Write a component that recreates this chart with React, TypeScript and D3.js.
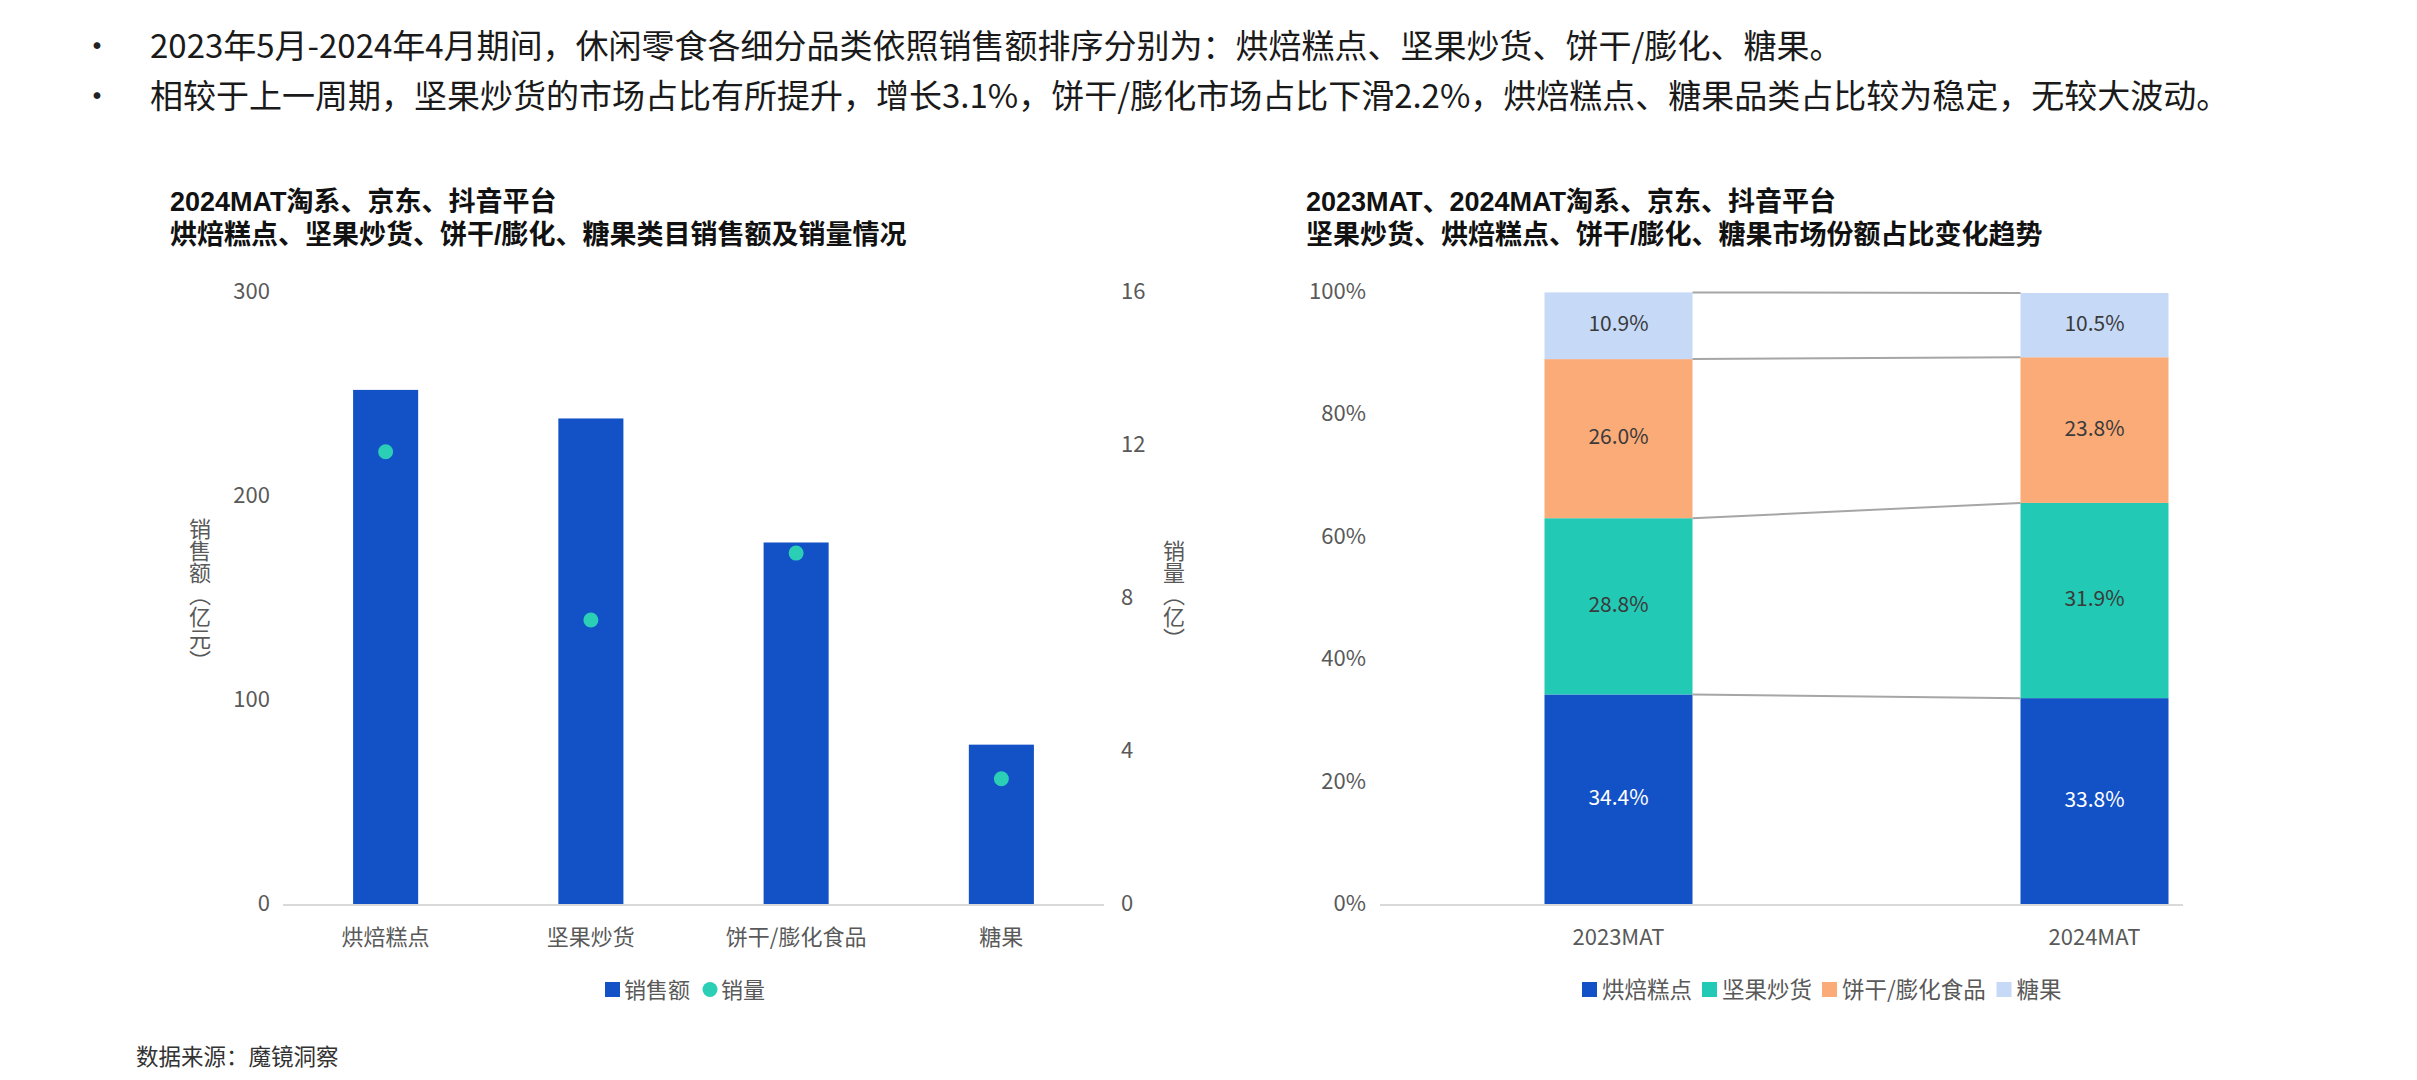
import React, { useEffect } from "react";
import * as d3 from "d3";

const headerLines = [
  "2023年5月-2024年4月期间，休闲零食各细分品类依照销售额排序分别为：烘焙糕点、坚果炒货、饼干/膨化、糖果。",
  "相较于上一周期，坚果炒货的市场占比有所提升，增长3.1%，饼干/膨化市场占比下滑2.2%，烘焙糕点、糖果品类占比较为稳定，无较大波动。",
];

const leftTitle = ["2024MAT淘系、京东、抖音平台", "烘焙糕点、坚果炒货、饼干/膨化、糖果类目销售额及销量情况"];
const rightTitle = ["2023MAT、2024MAT淘系、京东、抖音平台", "坚果炒货、烘焙糕点、饼干/膨化、糖果市场份额占比变化趋势"];

const categories = ["烘焙糕点", "坚果炒货", "饼干/膨化食品", "糖果"];
const salesValues = [252.5, 238.5, 177.7, 78.6]; // 亿元
const volumeValues = [11.85, 7.45, 9.2, 3.3]; // 亿
const leftTicks = [0, 100, 200, 300];
const rightTicks = [0, 4, 8, 12, 16];

const periods = ["2023MAT", "2024MAT"];
const segments = ["烘焙糕点", "坚果炒货", "饼干/膨化食品", "糖果"];
const share2023 = [34.4, 28.8, 26.0, 10.9];
const share2024 = [33.8, 31.9, 23.8, 10.5];
const pctTicks = [0, 20, 40, 60, 80, 100];

const colors = ["#1351C6", "#22C9B4", "#FAAB78", "#C6D9F7"];
const labelColors = ["#ffffff", "#3a3a3a", "#3a3a3a", "#3a3a3a"];
const barBlue = "#1351C6";
const dotTeal = "#2BCFB6";
const axisGray = "#595959";
const FONT = "'Noto Sans CJK SC', 'Noto Sans', sans-serif";
const TITLE_FONT = "'Liberation Sans', 'Noto Sans CJK SC', sans-serif";

export default function App() {
  useEffect(() => {
    document.body.style.margin = "0";
  }, []);

  const W = 2417;
  const H = 1080;
  const yTop = 293;
  const yBase = 905;

  const x = d3
    .scaleBand<string>()
    .domain(categories)
    .range([283, 1104])
    .paddingInner(0.683)
    .paddingOuter(0.3415);
  const yL = d3.scaleLinear().domain([0, 300]).range([yBase, yTop]);
  const yR = d3.scaleLinear().domain([0, 16]).range([yBase, yTop]);

  const xp = d3.scalePoint<string>().domain(periods).range([1618.5, 2094.5]);
  const bw = 148;
  const yP = d3.scaleLinear().domain([0, 100]).range([yBase, yTop]);
  const rows = periods.map((p, i) => {
    const vals = i === 0 ? share2023 : share2024;
    const r: any = { period: p };
    segments.forEach((s, j) => (r[s] = vals[j]));
    return r;
  });
  const stacked = d3.stack<any>().keys(segments)(rows);

  const connectors = stacked.map((layer) => ({
    y0: yP(layer[0][1]),
    y1: yP(layer[1][1]),
  }));

  return (
    <div style={{ position: "absolute", left: 0, top: 0 }}>
      <svg width={W} height={H} style={{ display: "block", fontFamily: FONT }}>
        <rect width={W} height={H} fill="#ffffff" />
        {/* header */}
        {headerLines.map((t, i) => (
          <g key={i}>
            <text x={97} y={58 + i * 50} fontSize={32} fill="#222" textAnchor="middle">
              •
            </text>
            <text x={150} y={58 + i * 50} fontSize={33} fill="#1a1a1a">
              {t}
            </text>
          </g>
        ))}

        {/* titles */}
        {leftTitle.map((t, i) => (
          <text
            key={i}
            x={170}
            y={211 + i * 33}
            fontSize={27}
            fontWeight={700}
            fill="#111"
            style={{ fontFamily: TITLE_FONT }}
          >
            {t}
          </text>
        ))}
        {rightTitle.map((t, i) => (
          <text
            key={i}
            x={1306}
            y={211 + i * 33}
            fontSize={27}
            fontWeight={700}
            fill="#111"
            style={{ fontFamily: TITLE_FONT }}
          >
            {t}
          </text>
        ))}

        {/* LEFT CHART */}
        {leftTicks.map((t) => (
          <text
            key={t}
            x={270}
            y={yL(t)}
            fontSize={22}
            fill={axisGray}
            textAnchor="end"
            dominantBaseline="middle"
          >
            {t}
          </text>
        ))}
        {rightTicks.map((t) => (
          <text key={t} x={1121} y={yR(t)} fontSize={22} fill={axisGray} dominantBaseline="middle">
            {t}
          </text>
        ))}
        <text
          x={200}
          y={595}
          fontSize={22}
          fill={axisGray}
          textAnchor="middle"
          style={{ writingMode: "vertical-rl" as any }}
        >
          销售额（亿元）
        </text>
        <text
          x={1174}
          y={595}
          fontSize={22}
          fill={axisGray}
          textAnchor="middle"
          style={{ writingMode: "vertical-rl" as any }}
        >
          销量（亿）
        </text>
        {categories.map((c, i) => (
          <rect
            key={c}
            x={x(c)}
            y={yL(salesValues[i])}
            width={x.bandwidth()}
            height={yBase - yL(salesValues[i])}
            fill={barBlue}
          />
        ))}
        <line x1={283} x2={1104} y1={yBase} y2={yBase} stroke="#d9d9d9" strokeWidth={2} />
        {categories.map((c, i) => (
          <circle
            key={c}
            cx={(x(c) as number) + x.bandwidth() / 2}
            cy={yR(volumeValues[i])}
            r={7.5}
            fill={dotTeal}
          />
        ))}
        {categories.map((c) => (
          <text
            key={c}
            x={(x(c) as number) + x.bandwidth() / 2}
            y={945}
            fontSize={22}
            fill={axisGray}
            textAnchor="middle"
          >
            {c}
          </text>
        ))}
        {/* left legend */}
        <rect x={605} y={982} width={15} height={15} fill={barBlue} />
        <text x={624} y={998} fontSize={22} fill={axisGray}>
          销售额
        </text>
        <circle cx={710} cy={989.5} r={7.5} fill={dotTeal} />
        <text x={721} y={998} fontSize={22} fill={axisGray}>
          销量
        </text>

        {/* RIGHT CHART */}
        {pctTicks.map((t) => (
          <text
            key={t}
            x={1366}
            y={yP(t)}
            fontSize={22}
            fill={axisGray}
            textAnchor="end"
            dominantBaseline="middle"
          >
            {t}%
          </text>
        ))}
        {stacked.map((layer, li) =>
          layer.map((d, di) => (
            <rect
              key={`${li}-${di}`}
              x={(xp(periods[di]) as number) - bw / 2}
              y={yP(d[1])}
              width={bw}
              height={yP(d[0]) - yP(d[1])}
              fill={colors[li]}
            />
          ))
        )}
        {connectors.map((c, i) => (
          <line
            key={i}
            x1={(xp(periods[0]) as number) + bw / 2}
            x2={(xp(periods[1]) as number) - bw / 2}
            y1={c.y0}
            y2={c.y1}
            stroke="#a6a6a6"
            strokeWidth={2}
          />
        ))}
        {stacked.map((layer, li) =>
          layer.map((d, di) => (
            <text
              key={`t${li}-${di}`}
              x={xp(periods[di]) as number}
              y={(yP(d[0]) + yP(d[1])) / 2}
              fontSize={21}
              fill={labelColors[li]}
              textAnchor="middle"
              dominantBaseline="middle"
            >
              {(d[1] - d[0]).toFixed(1)}%
            </text>
          ))
        )}
        <line x1={1380} x2={2183} y1={yBase} y2={yBase} stroke="#d9d9d9" strokeWidth={2} />
        {periods.map((p) => (
          <text key={p} x={xp(p) as number} y={945} fontSize={22} fill={axisGray} textAnchor="middle">
            {p}
          </text>
        ))}
        {/* right legend */}
        {(() => {
          let cx = 1582;
          return segments.map((s, i) => {
            const start = cx;
            const w = s.length * 22.5 - (s.includes("/") ? 13 : 0);
            cx += 15 + 6 + w + 9;
            return (
              <g key={s}>
                <rect x={start} y={982} width={15} height={15} fill={colors[i]} />
                <text x={start + 20} y={998} fontSize={22.5} fill={axisGray}>
                  {s}
                </text>
              </g>
            );
          });
        })()}

        {/* source */}
        <text x={136} y={1065} fontSize={22.5} fill="#333">
          数据来源：魔镜洞察
        </text>
      </svg>
    </div>
  );
}
